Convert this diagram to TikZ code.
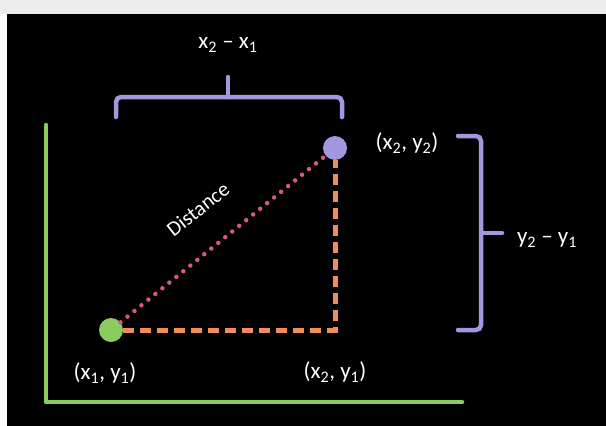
\documentclass[tikz,border=0pt]{standalone}
\usepackage{fontspec}
\setmainfont{Carlito}
\usepackage{tikz}

\definecolor{axisgreen}{HTML}{8CCB5E}
\definecolor{lilac}{HTML}{A397E0}
\definecolor{peach}{HTML}{F28C5A}
\definecolor{rose}{HTML}{D45C78}

\begin{document}
\begin{tikzpicture}[
  x=1pt, y=-1pt,
  dot/.style={circle, inner sep=0pt, minimum size=24pt},
  lbl/.style={text=white, font=\fontsize{23}{27}\selectfont},
  brace/.style={draw=lilac, line width=4.5pt, line cap=round, rounded corners=5pt},
  dashline/.style={draw=peach, line width=5pt, dash pattern=on 11pt off 6pt},
  dotline/.style={draw=rose, line width=4.5pt, line cap=round, dash pattern=on 0pt off 9pt}
]
  % background
  \fill[white] (0,0) rectangle (606,426);
  \fill[gray!15] (0,0) rectangle (606,14);
  \fill[black] (7,14) rectangle (606,426);

  % axes
  \draw[axisgreen, line width=4.5pt, line cap=round, line join=round] (46,125) -- (46,402) -- (462,402);

  % points
  \node[dot, fill=axisgreen] (p1) at (111,330) {};
  \node[dot, fill=lilac] (p2) at (335,148) {};
  \coordinate (c) at (p2 |- p1);
  \draw[dotline] (p1) -- (p2);
  \draw[dashline] (p1) -- (c) -- (p2);
  \node[lbl] (l1) at (105,373) {(x\textsubscript{1}, y\textsubscript{1})};
  \node[lbl] (l2) at (335,372) {(x\textsubscript{2}, y\textsubscript{1})};
  \node[lbl] (l3) at (407,143) {(x\textsubscript{2}, y\textsubscript{2})};
  \node[lbl, font=\fontsize{21}{24}\selectfont, rotate=38] (d) at (198,209) {Distance};

  % x2 - x1
  \draw[brace] (116,117) -- (116,97) -- (342,97) -- (342,117);
  \draw[brace] (228,97) -- (228,77);
  \node[lbl] (dx) at (228,45) {x\textsubscript{2} -- x\textsubscript{1}};

  % y2 - y1
  \draw[brace] (458,136) -- (481,136) -- (481,330) -- (458,330);
  \draw[brace] (481,233) -- (502,233);
  \node[lbl] (dy) at (547,240) {y\textsubscript{2} -- y\textsubscript{1}};
\end{tikzpicture}
\end{document}
